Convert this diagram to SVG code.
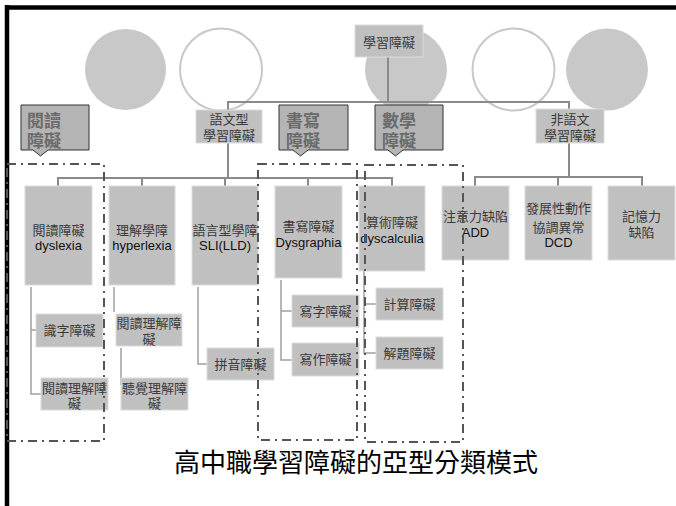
<svg xmlns="http://www.w3.org/2000/svg" width="676" height="506" viewBox="0 0 676 506">
<style>
.bg{fill:#ffffff}
.circf{fill:#c8c8c8}
.circo{fill:#ffffff;stroke:#c8c8c8;stroke-width:2}
.box{fill:#c0c0c0;stroke:#dcdcdc;stroke-width:1}
.t{font-family:"Liberation Sans","Noto Sans CJK TC",sans-serif;font-size:13px;fill:#3a3a3a;text-anchor:middle}
.e{fill:#111111}
.call{fill:#b4b4b4;stroke:#333333;stroke-width:1}
.ct{font-family:"Liberation Sans","Noto Sans CJK TC",sans-serif;font-size:17px;font-weight:bold;fill:#6a6a6a}
.main{fill:none;stroke:#8a8a8a;stroke-width:2}
.sub{fill:none;stroke:#a0a0a0;stroke-width:1.5}
.dash{fill:none;stroke:#555555;stroke-width:2;stroke-dasharray:9 5 2 5}
.title{font-family:"Liberation Sans","Noto Sans CJK TC",sans-serif;font-size:26px;fill:#000000;text-anchor:middle}
</style>
<rect class="bg" x="0" y="0" width="676" height="506"/>
<g id="frame">
<line x1="5" y1="7.5" x2="676" y2="7.5" stroke="#000" stroke-width="4.5"/>
<line x1="7" y1="5" x2="7" y2="506" stroke="#000" stroke-width="4.5"/>
</g>
<g id="circles">
<circle class="circf" cx="125.5" cy="69.5" r="40.5"/>
<circle class="circo" cx="221" cy="69.5" r="41"/>
<circle class="circf" cx="406" cy="69.5" r="41"/>
<circle class="circo" cx="513.5" cy="69.5" r="41"/>
<circle class="circf" cx="607" cy="69.5" r="41"/>
</g>
<g id="connectors">
<path class="main" d="M388 57V102M228 110V102H569V109"/>
<path class="main" d="M228 143V178M58 186V178H392V186M142 178V186M225 178V186M308 178V186"/>
<path class="main" d="M569 143V177M475 186V177H642V186M558 177V186"/>
<path class="sub" d="M31 287V394H41M31 330H36"/>
<path class="sub" d="M114 287V312M121 348V385"/>
<path class="sub" d="M198 287V364H207"/>
<path class="sub" d="M281 280V360H292M281 311H292"/>
<path class="sub" d="M364 271V353H376M364 304H376"/>
</g>
<g id="n-ld"><rect class="box" x="355" y="25" width="68" height="32"/><text class="t" x="389" y="47">學習障礙</text></g>
<g id="n-verbal"><rect class="box" x="196" y="110" width="66" height="33"/><text class="t" x="229" y="124">語文型</text><text class="t" x="229" y="140">學習障礙</text></g>
<g id="n-nonverbal"><rect class="box" x="536" y="109" width="68" height="34"/><text class="t" x="570" y="124">非語文</text><text class="t" x="570" y="140">學習障礙</text></g>
<g id="n-dyslexia"><rect class="box" x="25" y="186" width="67" height="99"/><text class="t" x="58.5" y="235">閱讀障礙</text><text class="t e" x="58.5" y="250">dyslexia</text></g>
<g id="n-hyperlexia"><rect class="box" x="109" y="186" width="66" height="99"/><text class="t" x="142" y="235">理解學障</text><text class="t e" x="142" y="250">hyperlexia</text></g>
<g id="n-sli"><rect class="box" x="192" y="186" width="66" height="99"/><text class="t" x="225" y="235">語言型學障</text><text class="t e" x="225" y="250">SLI(LLD)</text></g>
<g id="n-dysgraphia"><rect class="box" x="275" y="186" width="67" height="92"/><text class="t" x="308.5" y="231">書寫障礙</text><text class="t e" x="308.5" y="247">Dysgraphia</text></g>
<g id="n-dyscalculia"><rect class="box" x="359" y="186" width="66" height="85"/><text class="t" x="392" y="227">算術障礙</text><text class="t e" x="392" y="243">dyscalculia</text></g>
<g id="n-add"><rect class="box" x="442" y="186" width="67" height="74"/><text class="t" x="475.5" y="221">注意力缺陷</text><text class="t e" x="475.5" y="237">ADD</text></g>
<g id="n-dcd"><rect class="box" x="525" y="186" width="67" height="74"/><text class="t" x="558.5" y="213">發展性動作</text><text class="t" x="558.5" y="232">協調異常</text><text class="t e" x="558.5" y="247">DCD</text></g>
<g id="n-memory"><rect class="box" x="608" y="186" width="67" height="74"/><text class="t" x="641.5" y="221">記憶力</text><text class="t" x="641.5" y="237">缺陷</text></g>
<g id="n-word"><rect class="box" x="36" y="314" width="67" height="33"/><text class="t" x="69.5" y="335">識字障礙</text></g>
<g id="n-readcomp1"><rect class="box" x="41" y="378" width="67" height="32"/><text class="t" x="74.5" y="393">閱讀理解障</text><text class="t" x="74.5" y="408">礙</text></g>
<g id="n-readcomp2"><rect class="box" x="116" y="314" width="66" height="32"/><text class="t" x="149" y="328">閱讀理解障</text><text class="t" x="149" y="344">礙</text></g>
<g id="n-listen"><rect class="box" x="121" y="378" width="67" height="32"/><text class="t" x="154.5" y="393">聽覺理解障</text><text class="t" x="154.5" y="408">礙</text></g>
<g id="n-phon"><rect class="box" x="207" y="348" width="67" height="32"/><text class="t" x="240.5" y="369">拼音障礙</text></g>
<g id="n-write1"><rect class="box" x="292" y="295" width="67" height="32"/><text class="t" x="325.5" y="316">寫字障礙</text></g>
<g id="n-write2"><rect class="box" x="292" y="343" width="67" height="33"/><text class="t" x="325.5" y="364">寫作障礙</text></g>
<g id="n-calc"><rect class="box" x="376" y="288" width="67" height="32"/><text class="t" x="409.5" y="309">計算障礙</text></g>
<g id="n-problem"><rect class="box" x="376" y="337" width="67" height="32"/><text class="t" x="409.5" y="358">解題障礙</text></g>
<g id="group-reading">
<rect class="dash" x="7" y="164" width="97" height="277"/>
<path class="call" d="M21 105H89V150H48L40.5 156L33 150H21Z"/>
<text class="ct" x="27" y="127">閱讀</text><text class="ct" x="27" y="147">障礙</text>
</g>
<g id="group-writing">
<rect class="dash" x="258" y="164" width="99" height="276"/>
<path class="call" d="M279 105H348V150H308L300.5 156L293 150H279Z"/>
<text class="ct" x="286" y="127">書寫</text><text class="ct" x="286" y="147">障礙</text>
</g>
<g id="group-math">
<rect class="dash" x="365" y="165" width="98" height="277"/>
<path class="call" d="M375 105H443V150H403L395.5 156L388 150H375Z"/>
<text class="ct" x="382" y="127">數學</text><text class="ct" x="382" y="147">障礙</text>
</g>
<text class="title" x="356" y="472">高中職學習障礙的亞型分類模式</text>
</svg>
